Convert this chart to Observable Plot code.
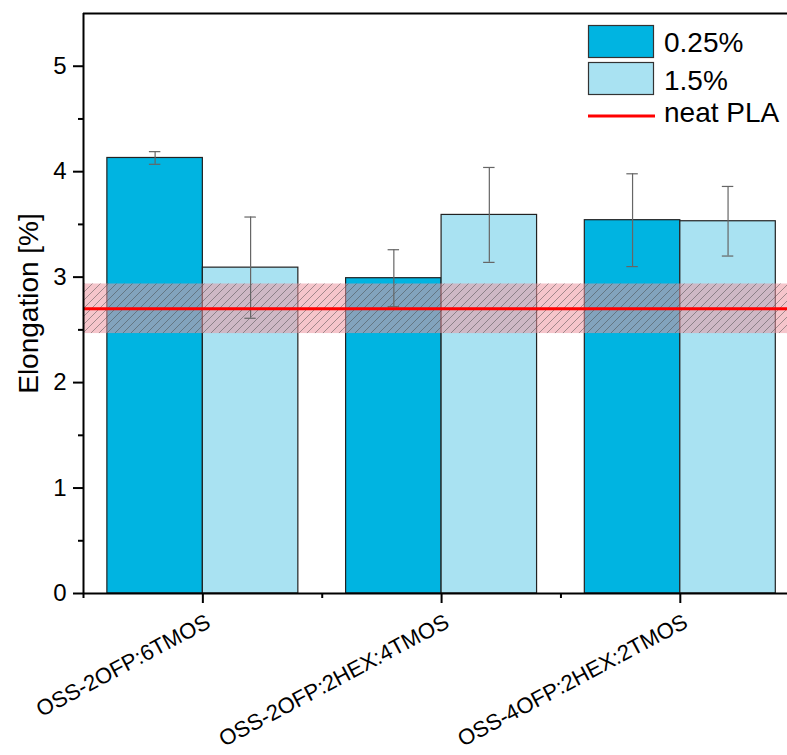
<!DOCTYPE html>
<html>
<head>
<meta charset="utf-8">
<script src="https://cdn.jsdelivr.net/npm/d3@7"></script>
<script src="https://cdn.jsdelivr.net/npm/@observablehq/plot@0.6"></script>
<style>
  html, body { margin: 0; padding: 0; background: #fff; overflow: hidden; }
  #wrap { position: relative; width: 787px; height: 755px; font-family: Arial, "Liberation Sans", sans-serif; }
  #legend { position: absolute; left: 0; top: 0; }
</style>
</head>
<body>
<div id="wrap"></div>
<script>
// ---- data ----
const groups = ["OSS-2OFP:6TMOS", "OSS-2OFP:2HEX:4TMOS", "OSS-4OFP:2HEX:2TMOS"];
const seriesNames = ["0.25%", "1.5%"];
const values025 = [4.13, 2.99, 3.54];
const errors025 = [0.06, 0.27, 0.44];
const values15 = [3.09, 3.59, 3.53];
const errors15 = [0.48, 0.45, 0.33];
const neatPLA = [2.70];
const neatPLAErr = [0.235];
const neatLabel = "neat PLA";
const yTicks = [0, 1, 2, 3, 4, 5];
const yMinorTicks = [0.5, 1.5, 2.5, 3.5, 4.5];
const xMinorTicks = [0.5, 1.5, 2.5];
const yLabel = "Elongation [%]";

// ---- styles / layout ----
const colors = ["#00b4e1", "#a9e2f2"];
const barW = 0.4;
const capW = 0.024;
const xDomain = [0.5, 3.449];
const yDomain = [0, 5.5];

const rows = [];
groups.forEach((g, i) => {
  rows.push({group: g, gi: i + 1, series: 0, value: values025[i], err: errors025[i]});
  rows.push({group: g, gi: i + 1, series: 1, value: values15[i], err: errors15[i]});
});
const band = neatPLA.map((v, i) => ({v, e: neatPLAErr[i]}));
const center = d => d.gi + (d.series === 0 ? -barW / 2 : barW / 2);

const chart = Plot.plot({
  width: 787,
  height: 755,
  marginLeft: 83,
  marginRight: 0,
  marginTop: 13,
  marginBottom: 162,
  style: {fontFamily: 'Arial, "Liberation Sans", sans-serif', fontSize: "24px", color: "#000", background: "#fff", overflow: "visible"},
  x: {domain: xDomain},
  y: {domain: yDomain},
  marks: [
    Plot.rectY(rows, {
      x1: d => d.gi + (d.series === 0 ? -barW : 0),
      x2: d => d.gi + (d.series === 0 ? 0 : barW),
      y1: 0, y2: "value",
      fill: d => colors[d.series],
      stroke: "#222", strokeWidth: 1.2
    }),
    Plot.rectY(band, {y1: d => d.v - d.e, y2: d => d.v + d.e, fill: "rgb(236,150,160)", fillOpacity: 0.55}),
    Plot.rectY(band, {y1: d => d.v - d.e, y2: d => d.v + d.e, fill: "url(#hatch)"}),
    Plot.ruleX(rows, {x: center, y1: d => d.value - d.err, y2: d => d.value + d.err, stroke: "#666", strokeWidth: 1.2}),
    Plot.ruleY(rows, {x1: d => center(d) - capW, x2: d => center(d) + capW, y: d => d.value + d.err, stroke: "#666", strokeWidth: 1.2}),
    Plot.ruleY(rows, {x1: d => center(d) - capW, x2: d => center(d) + capW, y: d => d.value - d.err, stroke: "#666", strokeWidth: 1.2}),
    Plot.ruleY(neatPLA, {stroke: "#ff0000", strokeWidth: 3}),
    // frame lines
    Plot.ruleY([yDomain[0]], {stroke: "#000", strokeWidth: 2}),
    Plot.ruleY([yDomain[1]], {stroke: "#000", strokeWidth: 2}),
    Plot.ruleX([xDomain[0]], {stroke: "#000", strokeWidth: 2}),
    // axes
    Plot.axisY(yTicks, {tickSize: 10, tickPadding: 7, fontSize: 24, strokeWidth: 2, label: null, tickFormat: d => String(d)}),
    Plot.axisY(yMinorTicks, {tickSize: 5, strokeWidth: 2, label: null, tickFormat: () => ""}),
    Plot.axisX(groups.map((g, i) => i + 1), {tickSize: 10, strokeWidth: 2, label: null, tickFormat: () => ""}),
    Plot.axisX(xMinorTicks, {tickSize: 5, strokeWidth: 2, label: null, tickFormat: () => ""}),
    Plot.text(groups, {
      x: (d, i) => i + 1, text: d => d, frameAnchor: "bottom",
      rotate: -28, textAnchor: "end", lineAnchor: "bottom",
      dx: 9, dy: 33, fontSize: 22, fill: "#000"
    }),
    Plot.text([yLabel], {
      text: d => d, frameAnchor: "left", rotate: -90, textAnchor: "middle",
      lineAnchor: "bottom", dx: -46, fontSize: 28, fill: "#000"
    })
  ]
});

// hatch pattern definition
d3.select(chart).insert("defs", ":first-child").html(
  '<pattern id="hatch" patternUnits="userSpaceOnUse" width="8" height="8">' +
  '<path d="M-1,1 l2,-2 M0,8 l8,-8 M7,9 l2,-2" stroke="#444" stroke-width="0.8" stroke-opacity="0.6"/>' +
  '</pattern>'
);

const wrap = document.getElementById("wrap");
wrap.appendChild(chart);

// legend overlay
const leg = d3.select(wrap).append("svg").attr("id", "legend")
  .attr("width", 787).attr("height", 140);
seriesNames.forEach((s, i) => {
  leg.append("rect").attr("x", 588.5).attr("y", 25.5 + i * 37).attr("width", 65).attr("height", 32)
    .attr("fill", colors[i]).attr("stroke", "#333").attr("stroke-width", 1.2);
  leg.append("text").attr("x", 664).attr("y", 52 + i * 38).attr("font-size", 28)
    .attr("font-family", 'Arial, "Liberation Sans", sans-serif').text(s);
});
leg.append("line").attr("x1", 588).attr("x2", 655).attr("y1", 116).attr("y2", 116)
  .attr("stroke", "#ff0000").attr("stroke-width", 3);
leg.append("text").attr("x", 664).attr("y", 122).attr("font-size", 28)
  .attr("font-family", 'Arial, "Liberation Sans", sans-serif').text(neatLabel);
</script>
</body>
</html>
